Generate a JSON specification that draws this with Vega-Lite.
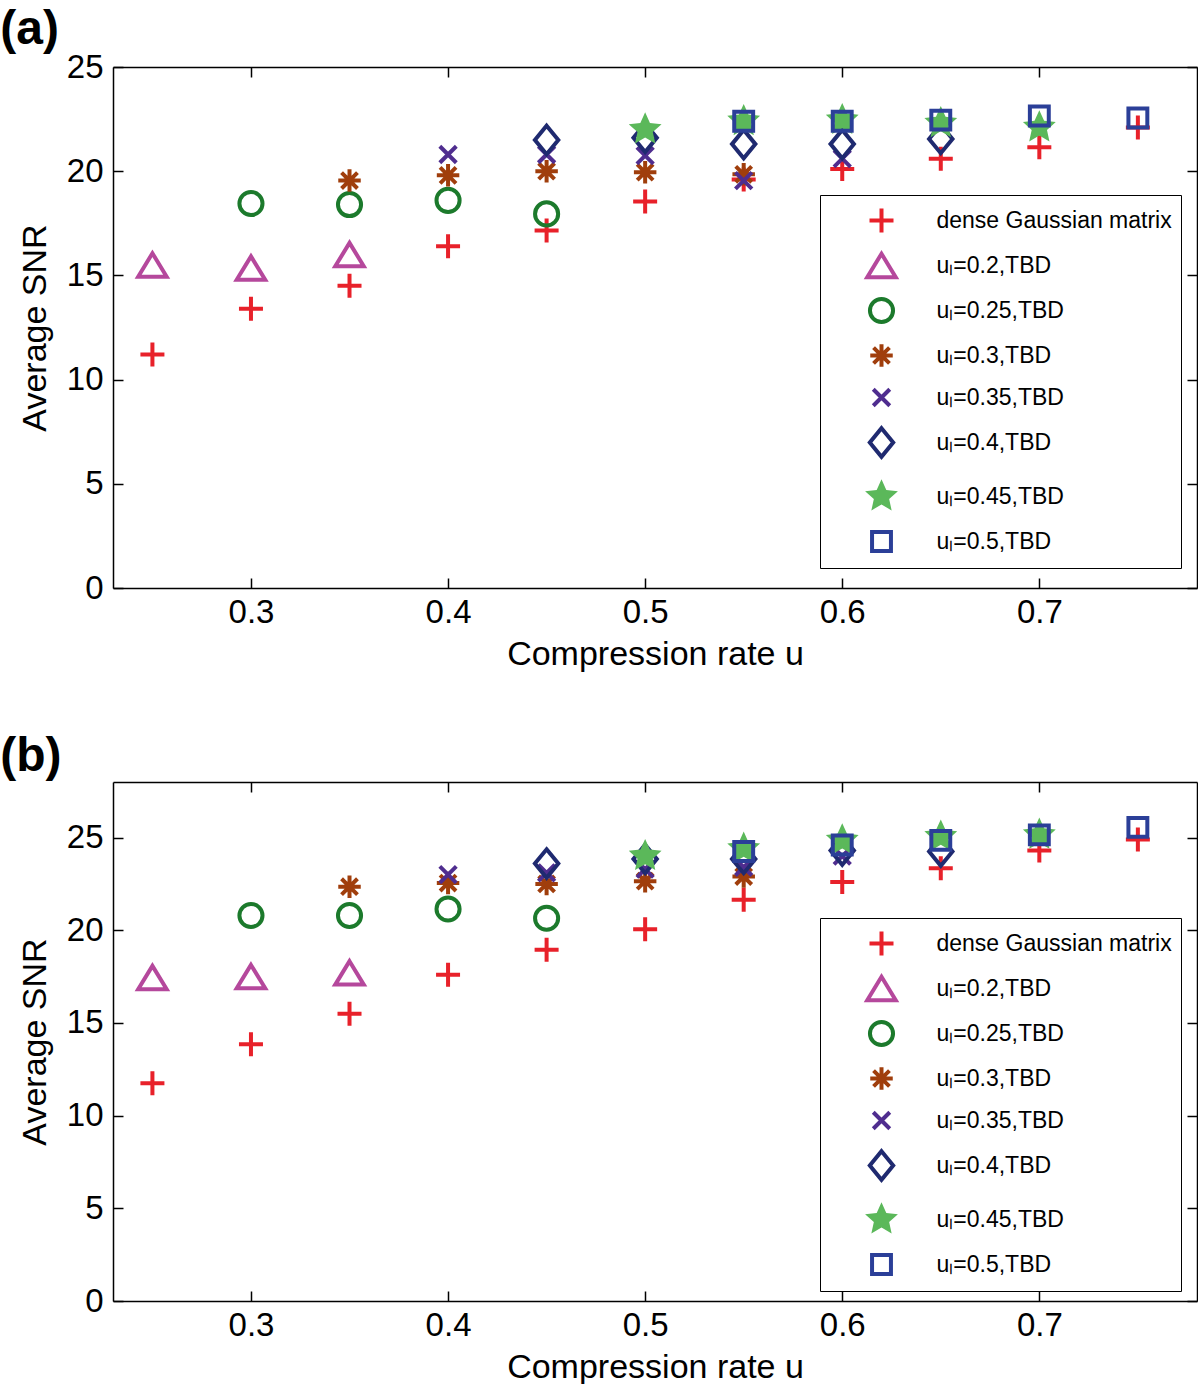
{
  "$schema": "https://vega.github.io/schema/vega-lite/v6.json",
  "background": "white",
  "padding": {"left": 0, "top": 6, "right": 0, "bottom": 0},
  "spacing": 62,
  "resolve": {
    "scale": {"shape": "independent", "stroke": "independent", "fill": "independent"},
    "legend": {"shape": "independent", "stroke": "independent", "fill": "independent"}
  },
  "config": {
    "font": "Liberation Sans",
    "view": {"stroke": null},
    "axis": {
      "grid": false,
      "domainColor": "black",
      "domainWidth": 1.5,
      "tickColor": "black",
      "tickWidth": 1.5,
      "tickSize": -10,
      "labelFont": "Liberation Sans",
      "labelFontSize": 33,
      "labelColor": "black",
      "titleFont": "Liberation Sans",
      "titleFontSize": 34,
      "titleFontWeight": "normal",
      "titleColor": "black"
    },
    "legend": {"labelLimit": 500},
    "title": {"font": "Liberation Sans", "fontSize": 48, "fontWeight": "bold", "color": "black", "anchor": "start", "frame": "bounds"}
  },
  "datasets": {
    "a": [
      {"u": 0.25, "snr": 11.2, "series": "dense Gaussian matrix"},
      {"u": 0.3, "snr": 13.4, "series": "dense Gaussian matrix"},
      {"u": 0.35, "snr": 14.5, "series": "dense Gaussian matrix"},
      {"u": 0.4, "snr": 16.4, "series": "dense Gaussian matrix"},
      {"u": 0.45, "snr": 17.15, "series": "dense Gaussian matrix"},
      {"u": 0.5, "snr": 18.55, "series": "dense Gaussian matrix"},
      {"u": 0.55, "snr": 19.6, "series": "dense Gaussian matrix"},
      {"u": 0.6, "snr": 20.1, "series": "dense Gaussian matrix"},
      {"u": 0.65, "snr": 20.6, "series": "dense Gaussian matrix"},
      {"u": 0.7, "snr": 21.15, "series": "dense Gaussian matrix"},
      {"u": 0.75, "snr": 22.1, "series": "dense Gaussian matrix"},
      {"u": 0.25, "snr": 15.5, "series": "uₗ=0.2,TBD"},
      {"u": 0.3, "snr": 15.35, "series": "uₗ=0.2,TBD"},
      {"u": 0.35, "snr": 16.0, "series": "uₗ=0.2,TBD"},
      {"u": 0.3, "snr": 18.45, "series": "uₗ=0.25,TBD"},
      {"u": 0.35, "snr": 18.4, "series": "uₗ=0.25,TBD"},
      {"u": 0.4, "snr": 18.6, "series": "uₗ=0.25,TBD"},
      {"u": 0.45, "snr": 17.95, "series": "uₗ=0.25,TBD"},
      {"u": 0.35, "snr": 19.55, "series": "uₗ=0.3,TBD"},
      {"u": 0.4, "snr": 19.8, "series": "uₗ=0.3,TBD"},
      {"u": 0.45, "snr": 20.0, "series": "uₗ=0.3,TBD"},
      {"u": 0.5, "snr": 19.95, "series": "uₗ=0.3,TBD"},
      {"u": 0.55, "snr": 19.85, "series": "uₗ=0.3,TBD"},
      {"u": 0.4, "snr": 20.8, "series": "uₗ=0.35,TBD"},
      {"u": 0.45, "snr": 20.8, "series": "uₗ=0.35,TBD"},
      {"u": 0.5, "snr": 20.75, "series": "uₗ=0.35,TBD"},
      {"u": 0.55, "snr": 19.55, "series": "uₗ=0.35,TBD"},
      {"u": 0.6, "snr": 20.6, "series": "uₗ=0.35,TBD"},
      {"u": 0.45, "snr": 21.5, "series": "uₗ=0.4,TBD"},
      {"u": 0.5, "snr": 21.6, "series": "uₗ=0.4,TBD"},
      {"u": 0.55, "snr": 21.3, "series": "uₗ=0.4,TBD"},
      {"u": 0.6, "snr": 21.3, "series": "uₗ=0.4,TBD"},
      {"u": 0.65, "snr": 21.55, "series": "uₗ=0.4,TBD"},
      {"u": 0.5, "snr": 22.0, "series": "uₗ=0.45,TBD"},
      {"u": 0.55, "snr": 22.4, "series": "uₗ=0.45,TBD"},
      {"u": 0.6, "snr": 22.45, "series": "uₗ=0.45,TBD"},
      {"u": 0.65, "snr": 22.3, "series": "uₗ=0.45,TBD"},
      {"u": 0.7, "snr": 22.1, "series": "uₗ=0.45,TBD"},
      {"u": 0.55, "snr": 22.4, "series": "uₗ=0.5,TBD"},
      {"u": 0.6, "snr": 22.4, "series": "uₗ=0.5,TBD"},
      {"u": 0.65, "snr": 22.45, "series": "uₗ=0.5,TBD"},
      {"u": 0.7, "snr": 22.65, "series": "uₗ=0.5,TBD"},
      {"u": 0.75, "snr": 22.55, "series": "uₗ=0.5,TBD"}
    ],
    "b": [
      {"u": 0.25, "snr": 11.75, "series": "dense Gaussian matrix"},
      {"u": 0.3, "snr": 13.85, "series": "dense Gaussian matrix"},
      {"u": 0.35, "snr": 15.5, "series": "dense Gaussian matrix"},
      {"u": 0.4, "snr": 17.6, "series": "dense Gaussian matrix"},
      {"u": 0.45, "snr": 18.95, "series": "dense Gaussian matrix"},
      {"u": 0.5, "snr": 20.05, "series": "dense Gaussian matrix"},
      {"u": 0.55, "snr": 21.65, "series": "dense Gaussian matrix"},
      {"u": 0.6, "snr": 22.6, "series": "dense Gaussian matrix"},
      {"u": 0.65, "snr": 23.35, "series": "dense Gaussian matrix"},
      {"u": 0.7, "snr": 24.3, "series": "dense Gaussian matrix"},
      {"u": 0.75, "snr": 24.9, "series": "dense Gaussian matrix"},
      {"u": 0.25, "snr": 17.45, "series": "uₗ=0.2,TBD"},
      {"u": 0.3, "snr": 17.5, "series": "uₗ=0.2,TBD"},
      {"u": 0.35, "snr": 17.7, "series": "uₗ=0.2,TBD"},
      {"u": 0.3, "snr": 20.8, "series": "uₗ=0.25,TBD"},
      {"u": 0.35, "snr": 20.8, "series": "uₗ=0.25,TBD"},
      {"u": 0.4, "snr": 21.15, "series": "uₗ=0.25,TBD"},
      {"u": 0.45, "snr": 20.65, "series": "uₗ=0.25,TBD"},
      {"u": 0.35, "snr": 22.35, "series": "uₗ=0.3,TBD"},
      {"u": 0.4, "snr": 22.55, "series": "uₗ=0.3,TBD"},
      {"u": 0.45, "snr": 22.5, "series": "uₗ=0.3,TBD"},
      {"u": 0.5, "snr": 22.65, "series": "uₗ=0.3,TBD"},
      {"u": 0.55, "snr": 22.9, "series": "uₗ=0.3,TBD"},
      {"u": 0.4, "snr": 23.0, "series": "uₗ=0.35,TBD"},
      {"u": 0.45, "snr": 23.1, "series": "uₗ=0.35,TBD"},
      {"u": 0.5, "snr": 23.3, "series": "uₗ=0.35,TBD"},
      {"u": 0.55, "snr": 23.4, "series": "uₗ=0.35,TBD"},
      {"u": 0.6, "snr": 24.0, "series": "uₗ=0.35,TBD"},
      {"u": 0.45, "snr": 23.6, "series": "uₗ=0.4,TBD"},
      {"u": 0.5, "snr": 23.85, "series": "uₗ=0.4,TBD"},
      {"u": 0.55, "snr": 23.85, "series": "uₗ=0.4,TBD"},
      {"u": 0.6, "snr": 24.3, "series": "uₗ=0.4,TBD"},
      {"u": 0.65, "snr": 24.25, "series": "uₗ=0.4,TBD"},
      {"u": 0.5, "snr": 24.0, "series": "uₗ=0.45,TBD"},
      {"u": 0.55, "snr": 24.4, "series": "uₗ=0.45,TBD"},
      {"u": 0.6, "snr": 24.85, "series": "uₗ=0.45,TBD"},
      {"u": 0.65, "snr": 25.05, "series": "uₗ=0.45,TBD"},
      {"u": 0.7, "snr": 25.15, "series": "uₗ=0.45,TBD"},
      {"u": 0.55, "snr": 24.25, "series": "uₗ=0.5,TBD"},
      {"u": 0.6, "snr": 24.6, "series": "uₗ=0.5,TBD"},
      {"u": 0.65, "snr": 24.85, "series": "uₗ=0.5,TBD"},
      {"u": 0.7, "snr": 25.15, "series": "uₗ=0.5,TBD"},
      {"u": 0.75, "snr": 25.55, "series": "uₗ=0.5,TBD"}
    ]
  },
  "vconcat": [
    {
      "title": {"text": "(a)", "dx": -18, "offset": -3},
      "width": 1084,
      "height": 521,
      "data": {"name": "a"},
      "layer": [
        {
          "mark": {"type": "point", "size": 900, "strokeWidth": 4, "opacity": 1, "strokeJoin": "miter"},
          "encoding": {
            "x": {"field": "u", "type": "quantitative", "scale": {"domain": [0.23, 0.78], "nice": false, "zero": false},
                  "axis": {"orient": "bottom", "values": [0.3, 0.4, 0.5, 0.6, 0.7], "format": ".1f", "title": "Compression rate u", "labelPadding": 18, "titlePadding": 8}},
            "y": {"field": "snr", "type": "quantitative", "scale": {"domain": [0, 25], "nice": false},
                  "axis": {"orient": "left", "values": [0, 5, 10, 15, 20, 25], "title": "Average SNR", "labelPadding": 20, "titlePadding": 14}},
            "shape": {"field": "series", "type": "nominal",
              "scale": {"domain": ["dense Gaussian matrix", "uₗ=0.2,TBD", "uₗ=0.25,TBD", "uₗ=0.3,TBD", "uₗ=0.35,TBD", "uₗ=0.4,TBD", "uₗ=0.45,TBD", "uₗ=0.5,TBD"],
                "range": ["M-0.8,0H0.8M0,-0.8V0.8", "M0,-0.78L0.95,0.78L-0.95,0.78Z", "M0.77,0A0.77,0.77 0 1,1 -0.77,0A0.77,0.77 0 1,1 0.77,0Z", "M-0.75,0H0.75M0,-0.75V0.75M-0.53,-0.53L0.53,0.53M-0.53,0.53L0.53,-0.53", "M-0.55,-0.55L0.55,0.55M-0.55,0.55L0.55,-0.55", "M0,-0.95L0.78,0L0,0.95L-0.78,0Z", "M0,-1.15L0.32,-0.44L1.094,-0.355L0.51,0.17L0.676,0.93L0,0.54L-0.676,0.93L-0.51,0.17L-1.094,-0.355L-0.32,-0.44Z", "M-0.63,-0.63H0.63V0.63H-0.63Z"]},
              "legend": {"title": null, "orient": "none", "legendX": 707, "legendY": 128, "strokeColor": "black", "fillColor": "white", "padding": 8.5, "symbolSize": 900, "symbolStrokeWidth": 4, "labelFontSize": 23, "labelFont": "Liberation Sans", "labelColor": "black", "rowPadding": 5, "labelOffset": 38, "symbolOffset": 36, "labelLimit": 500}},
            "stroke": {"field": "series", "type": "nominal",
              "scale": {"domain": ["dense Gaussian matrix", "uₗ=0.2,TBD", "uₗ=0.25,TBD", "uₗ=0.3,TBD", "uₗ=0.35,TBD", "uₗ=0.4,TBD", "uₗ=0.45,TBD", "uₗ=0.5,TBD"],
                "range": ["#e8212a", "#b5489c", "#1c7a2c", "#a03e0c", "#4f2d8f", "#1f2a70", "transparent", "#2b3f98"]},
              "legend": {"title": null, "orient": "none", "legendX": 707, "legendY": 128, "strokeColor": "black", "fillColor": "white", "padding": 8.5, "symbolSize": 900, "symbolStrokeWidth": 4, "labelFontSize": 23, "labelFont": "Liberation Sans", "labelColor": "black", "rowPadding": 5, "labelOffset": 38, "symbolOffset": 36, "labelLimit": 500}},
            "fill": {"field": "series", "type": "nominal",
              "scale": {"domain": ["dense Gaussian matrix", "uₗ=0.2,TBD", "uₗ=0.25,TBD", "uₗ=0.3,TBD", "uₗ=0.35,TBD", "uₗ=0.4,TBD", "uₗ=0.45,TBD", "uₗ=0.5,TBD"],
                "range": ["transparent", "transparent", "transparent", "transparent", "transparent", "transparent", "#5bb85a", "transparent"]},
              "legend": {"title": null, "orient": "none", "legendX": 707, "legendY": 128, "strokeColor": "black", "fillColor": "white", "padding": 8.5, "symbolSize": 900, "symbolStrokeWidth": 4, "labelFontSize": 23, "labelFont": "Liberation Sans", "labelColor": "black", "rowPadding": 5, "labelOffset": 38, "symbolOffset": 36, "labelLimit": 500}}
          }
        },
        {
          "mark": {"type": "point", "opacity": 0},
          "encoding": {
            "x": {"field": "u", "type": "quantitative", "scale": {"domain": [0.23, 0.78], "nice": false, "zero": false},
                  "axis": {"orient": "top", "values": [0.3, 0.4, 0.5, 0.6, 0.7], "labels": false, "title": null}},
            "y": {"field": "snr", "type": "quantitative", "scale": {"domain": [0, 25], "nice": false},
                  "axis": {"orient": "right", "values": [0, 5, 10, 15, 20, 25], "labels": false, "title": null}}
          }
        }
      ],
      "resolve": {"axis": {"x": "independent", "y": "independent"}}
    },
    {
      "title": {"text": "(b)", "dx": -18, "offset": 0},
      "width": 1084,
      "height": 519,
      "data": {"name": "b"},
      "layer": [
        {
          "mark": {"type": "point", "size": 900, "strokeWidth": 4, "opacity": 1, "strokeJoin": "miter"},
          "encoding": {
            "x": {"field": "u", "type": "quantitative", "scale": {"domain": [0.23, 0.78], "nice": false, "zero": false},
                  "axis": {"orient": "bottom", "values": [0.3, 0.4, 0.5, 0.6, 0.7], "format": ".1f", "title": "Compression rate u", "labelPadding": 18, "titlePadding": 8}},
            "y": {"field": "snr", "type": "quantitative", "scale": {"domain": [0, 28], "nice": false},
                  "axis": {"orient": "left", "values": [0, 5, 10, 15, 20, 25], "title": "Average SNR", "labelPadding": 20, "titlePadding": 14}},
            "shape": {"field": "series", "type": "nominal",
              "scale": {"domain": ["dense Gaussian matrix", "uₗ=0.2,TBD", "uₗ=0.25,TBD", "uₗ=0.3,TBD", "uₗ=0.35,TBD", "uₗ=0.4,TBD", "uₗ=0.45,TBD", "uₗ=0.5,TBD"],
                "range": ["M-0.8,0H0.8M0,-0.8V0.8", "M0,-0.78L0.95,0.78L-0.95,0.78Z", "M0.77,0A0.77,0.77 0 1,1 -0.77,0A0.77,0.77 0 1,1 0.77,0Z", "M-0.75,0H0.75M0,-0.75V0.75M-0.53,-0.53L0.53,0.53M-0.53,0.53L0.53,-0.53", "M-0.55,-0.55L0.55,0.55M-0.55,0.55L0.55,-0.55", "M0,-0.95L0.78,0L0,0.95L-0.78,0Z", "M0,-1.15L0.32,-0.44L1.094,-0.355L0.51,0.17L0.676,0.93L0,0.54L-0.676,0.93L-0.51,0.17L-1.094,-0.355L-0.32,-0.44Z", "M-0.63,-0.63H0.63V0.63H-0.63Z"]},
              "legend": {"title": null, "orient": "none", "legendX": 707, "legendY": 136, "strokeColor": "black", "fillColor": "white", "padding": 8.5, "symbolSize": 900, "symbolStrokeWidth": 4, "labelFontSize": 23, "labelFont": "Liberation Sans", "labelColor": "black", "rowPadding": 5, "labelOffset": 38, "symbolOffset": 36, "labelLimit": 500}},
            "stroke": {"field": "series", "type": "nominal",
              "scale": {"domain": ["dense Gaussian matrix", "uₗ=0.2,TBD", "uₗ=0.25,TBD", "uₗ=0.3,TBD", "uₗ=0.35,TBD", "uₗ=0.4,TBD", "uₗ=0.45,TBD", "uₗ=0.5,TBD"],
                "range": ["#e8212a", "#b5489c", "#1c7a2c", "#a03e0c", "#4f2d8f", "#1f2a70", "transparent", "#2b3f98"]},
              "legend": {"title": null, "orient": "none", "legendX": 707, "legendY": 136, "strokeColor": "black", "fillColor": "white", "padding": 8.5, "symbolSize": 900, "symbolStrokeWidth": 4, "labelFontSize": 23, "labelFont": "Liberation Sans", "labelColor": "black", "rowPadding": 5, "labelOffset": 38, "symbolOffset": 36, "labelLimit": 500}},
            "fill": {"field": "series", "type": "nominal",
              "scale": {"domain": ["dense Gaussian matrix", "uₗ=0.2,TBD", "uₗ=0.25,TBD", "uₗ=0.3,TBD", "uₗ=0.35,TBD", "uₗ=0.4,TBD", "uₗ=0.45,TBD", "uₗ=0.5,TBD"],
                "range": ["transparent", "transparent", "transparent", "transparent", "transparent", "transparent", "#5bb85a", "transparent"]},
              "legend": {"title": null, "orient": "none", "legendX": 707, "legendY": 136, "strokeColor": "black", "fillColor": "white", "padding": 8.5, "symbolSize": 900, "symbolStrokeWidth": 4, "labelFontSize": 23, "labelFont": "Liberation Sans", "labelColor": "black", "rowPadding": 5, "labelOffset": 38, "symbolOffset": 36, "labelLimit": 500}}
          }
        },
        {
          "mark": {"type": "point", "opacity": 0},
          "encoding": {
            "x": {"field": "u", "type": "quantitative", "scale": {"domain": [0.23, 0.78], "nice": false, "zero": false},
                  "axis": {"orient": "top", "values": [0.3, 0.4, 0.5, 0.6, 0.7], "labels": false, "title": null}},
            "y": {"field": "snr", "type": "quantitative", "scale": {"domain": [0, 28], "nice": false},
                  "axis": {"orient": "right", "values": [0, 5, 10, 15, 20, 25], "labels": false, "title": null}}
          }
        }
      ],
      "resolve": {"axis": {"x": "independent", "y": "independent"}}
    }
  ]
}
